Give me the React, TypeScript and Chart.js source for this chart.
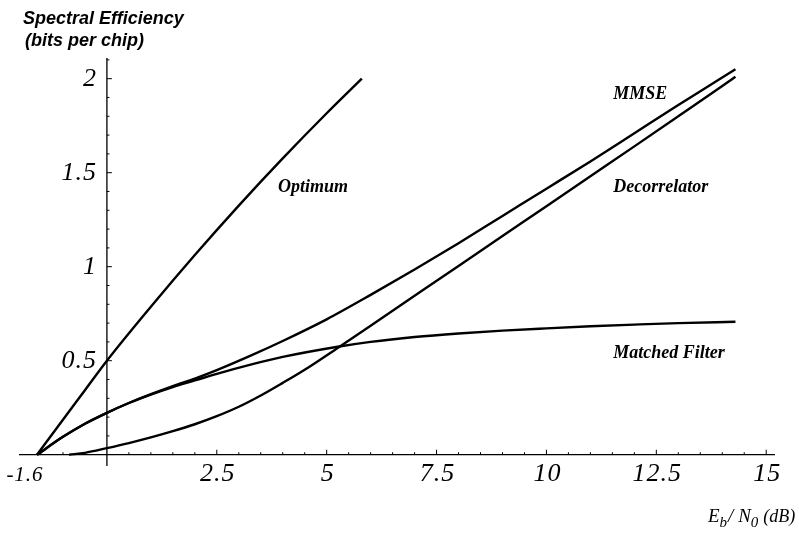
import React, { useEffect, useRef } from "react";
import { Chart, registerables } from "chart.js";

Chart.register(...registerables);

// ---- data (Eb/N0 in dB, spectral efficiency in bits per chip) ----
const optimumX = [-1.59, -1, -0.5, 0, 1, 2, 3, 4, 5, 5.8];
const optimumY = [0, 0.186, 0.343, 0.5, 0.787, 1.062, 1.325, 1.576, 1.816, 2.0];

const mmseX = [-1.59, -1, -0.5, 0, 0.5, 1, 1.5, 2, 2.5, 3.27, 4, 5, 6, 7, 8, 9, 10, 11, 12, 13, 13.89, 14.3];
const mmseY = [0, 0.095, 0.165, 0.223, 0.275, 0.322, 0.365, 0.405, 0.45, 0.527, 0.605, 0.72, 0.85, 0.985, 1.125, 1.27, 1.415, 1.56, 1.71, 1.86, 1.99, 2.05];

const decorrX = [-0.86, -0.5, 0, 0.5, 1, 1.5, 2, 2.5, 3, 3.5, 4, 4.5, 5.25, 6, 7, 8, 9, 10, 11, 12, 13, 14.18, 14.3];
const decorrY = [0, 0.01, 0.035, 0.062, 0.092, 0.125, 0.162, 0.205, 0.255, 0.315, 0.382, 0.452, 0.568, 0.686, 0.845, 1.004, 1.163, 1.322, 1.481, 1.64, 1.8, 1.99, 2.01];

const mfX = [-1.59, -1, -0.5, 0, 0.5, 1, 1.5, 2, 2.5, 3.27, 4, 5.25, 6, 7, 8, 9, 10, 11, 12, 13, 14.3];
const mfY = [0, 0.095, 0.165, 0.223, 0.275, 0.32, 0.36, 0.395, 0.43, 0.479, 0.52, 0.574, 0.6, 0.626, 0.645, 0.66, 0.672, 0.683, 0.692, 0.7, 0.707];

const xMajorTicks = [2.5, 5, 7.5, 10, 12.5, 15];
const xMajorLabels = ["2.5", "5", "7.5", "10", "12.5", "15"];
const xStartLabel = "-1.6";
const yMajorTicks = [0.5, 1, 1.5, 2];
const yMajorLabels = ["0.5", "1", "1.5", "2"];

const curveLabels = [
  { text: "Optimum", x: 3.89, y: 1.42 },
  { text: "MMSE", x: 11.52, y: 1.915 },
  { text: "Decorrelator", x: 11.52, y: 1.42 },
  { text: "Matched Filter", x: 11.52, y: 0.537 },
];

const toPoints = (xs: number[], ys: number[]) => xs.map((x, i) => ({ x, y: ys[i] }));

const axesPlugin = {
  id: "mathAxes",
  afterDatasetsDraw(chart: any) {
    const ctx = chart.ctx as CanvasRenderingContext2D;
    const xs = chart.scales.x;
    const ys = chart.scales.y;
    const px = (v: number) => xs.getPixelForValue(v);
    const py = (v: number) => ys.getPixelForValue(v);
    const x0 = px(0);
    const y0 = py(0);
    ctx.save();
    ctx.strokeStyle = "#000";
    ctx.fillStyle = "#000";
    ctx.lineWidth = 1.3;
    ctx.beginPath();
    ctx.moveTo(chart.chartArea.left, y0);
    ctx.lineTo(chart.chartArea.right, y0);
    ctx.moveTo(x0, chart.chartArea.bottom);
    ctx.lineTo(x0, chart.chartArea.top);
    ctx.stroke();
    ctx.lineWidth = 1;
    ctx.beginPath();
    for (let v = -1.5; v <= 15.01; v += 0.5) {
      if (Math.abs(v) < 1e-6) continue;
      const major = Math.abs(v / 2.5 - Math.round(v / 2.5)) < 1e-6;
      const len = major ? 5 : 2.5;
      ctx.moveTo(px(v), y0);
      ctx.lineTo(px(v), y0 - len);
    }
    for (let k = 1; k <= 21; k++) {
      const v = k / 10;
      const major = k % 5 === 0;
      const len = major ? 5 : 2.5;
      ctx.moveTo(x0, py(v));
      ctx.lineTo(x0 + len, py(v));
    }
    ctx.stroke();

    ctx.font = "italic 26px 'Liberation Serif'";
    (ctx as any).letterSpacing = "1px";
    ctx.textAlign = "center";
    ctx.textBaseline = "middle";
    xMajorTicks.forEach((v, i) => {
      ctx.fillText(xMajorLabels[i], px(v) + 1, y0 + 19);
    });
    ctx.font = "italic 21px 'Liberation Serif'";
    ctx.fillText(xStartLabel, 25, y0 + 21);
    ctx.font = "italic 26px 'Liberation Serif'";
    ctx.textAlign = "right";
    yMajorTicks.forEach((v, i) => {
      ctx.fillText(yMajorLabels[i], x0 - 10, py(v));
    });
    (ctx as any).letterSpacing = "0px";

    ctx.font = "italic bold 18px 'Liberation Serif'";
    ctx.textAlign = "left";
    curveLabels.forEach((l) => ctx.fillText(l.text, px(l.x), py(l.y)));

    ctx.font = "italic bold 18px 'Liberation Sans'";
    ctx.textBaseline = "alphabetic";
    ctx.fillText("Spectral Efficiency", 23, 24);
    ctx.fillText("(bits per chip)", 25, 46);

    ctx.font = "italic 19px 'Liberation Serif'";
    let cx = 708;
    const base = 522;
    ctx.fillText("E", cx, base);
    cx += ctx.measureText("E").width;
    ctx.font = "italic 15px 'Liberation Serif'";
    ctx.fillText("b", cx, base + 5);
    cx += ctx.measureText("b").width + 1;
    ctx.font = "italic 19px 'Liberation Serif'";
    ctx.fillText("/ N", cx, base);
    cx += ctx.measureText("/ N").width;
    ctx.font = "italic 15px 'Liberation Serif'";
    ctx.fillText("0", cx, base + 5);
    cx += ctx.measureText("0").width + 5;
    ctx.font = "italic 18px 'Liberation Serif'";
    ctx.fillText("(dB)", cx, base);
    ctx.restore();
  },
};

export default function App() {
  const ref = useRef<HTMLCanvasElement | null>(null);
  useEffect(() => {
    if (!ref.current) return;
    const ds = (xs: number[], ys: number[]) => ({
      data: toPoints(xs, ys),
      borderColor: "#000",
      borderWidth: 2.4,
      pointRadius: 0,
      cubicInterpolationMode: "monotone" as const,
      fill: false,
    });
    const chart = new Chart(ref.current, {
      type: "line",
      data: {
        datasets: [
          { label: "Optimum", ...ds(optimumX, optimumY) },
          { label: "MMSE", ...ds(mmseX, mmseY) },
          { label: "Decorrelator", ...ds(decorrX, decorrY) },
          { label: "Matched Filter", ...ds(mfX, mfY) },
        ],
      },
      options: {
        responsive: false,
        animation: false,
        layout: { padding: { left: 19, right: 24, top: 58, bottom: 67 } },
        plugins: { legend: { display: false }, tooltip: { enabled: false } },
        scales: {
          x: { type: "linear", min: -2, max: 15.2, display: false },
          y: { type: "linear", min: -0.06, max: 2.11, display: false },
        },
      },
      plugins: [axesPlugin],
    });
    return () => chart.destroy();
  }, []);
  return (
    <div style={{ position: "fixed", left: 0, top: 0, width: 799, height: 533, background: "#fff" }}>
      <canvas ref={ref} width={799} height={533} />
    </div>
  );
}
